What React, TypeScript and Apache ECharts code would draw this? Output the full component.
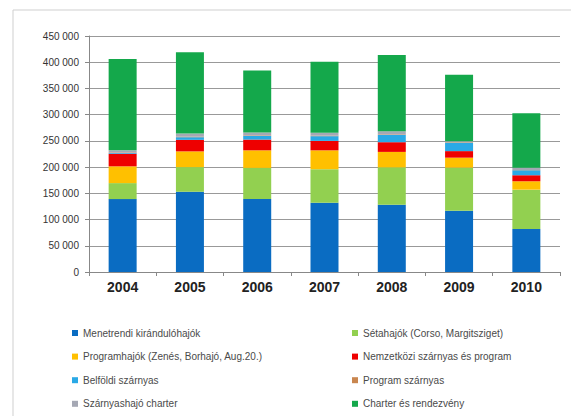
import React, { useEffect, useRef } from "react";
import * as echarts from "echarts";

const years = ["2004", "2005", "2006", "2007", "2008", "2009", "2010"];
const yTicks = [0, 50000, 100000, 150000, 200000, 250000, 300000, 350000, 400000, 450000];

const names = [
  "Menetrendi kirándulóhajók",
  "Sétahajók (Corso, Margitsziget)",
  "Programhajók (Zenés, Borhajó, Aug.20.)",
  "Nemzetközi szárnyas és program",
  "Belföldi szárnyas",
  "Program szárnyas",
  "Szárnyashajó charter",
  "Charter és rendezvény",
];

const menetrendi = [139000, 153000, 139000, 132000, 128000, 117000, 82000];
const setahajok = [30500, 47000, 59500, 64000, 71500, 82000, 75000];
const programhajok = [32000, 30000, 33500, 36000, 29500, 19000, 16000];
const nemzetkozi = [24000, 22000, 20500, 18000, 18500, 12500, 11500];
const belfoldi = [1500, 5000, 7000, 9000, 14000, 16000, 9500];
const programSzarnyas = [1000, 1000, 1000, 1000, 1000, 1000, 500];
const szarnyasCharter = [4000, 6000, 5500, 5500, 6000, 2000, 4500];
const charter = [174000, 155000, 118000, 135500, 145500, 126500, 103500];

const seriesData = [
  menetrendi,
  setahajok,
  programhajok,
  nemzetkozi,
  belfoldi,
  programSzarnyas,
  szarnyasCharter,
  charter,
];
const colors = [
  "#0a6cc2",
  "#92d050",
  "#ffc000",
  "#ee0000",
  "#2aa9e6",
  "#c9864f",
  "#a5a8b4",
  "#14a84b",
];

function fmt(v: number): string {
  return String(v).replace(/\B(?=(\d{3})+(?!\d))/g, " ");
}

export default function App() {
  const ref = useRef<HTMLDivElement>(null);
  useEffect(() => {
    if (!ref.current) return;
    const chart = echarts.init(ref.current, undefined, { renderer: "svg" });
    const legendText = {
      fontSize: 10,
      color: "#4a4a4a",
      fontFamily: "Liberation Sans, Arial, sans-serif",
      lineHeight: 10,
    };
    chart.setOption({
      animation: false,
      backgroundColor: "#ffffff",
      graphic: [
        {
          type: "rect",
          shape: { x: 13, y: 10, width: 600, height: 450 },
          style: { fill: "none", stroke: "#cfcfcf", lineWidth: 1 },
          silent: true,
        },
      ],
      grid: { left: 89, right: 11, top: 36, bottom: 144 },
      legend: [
        {
          orient: "vertical",
          left: 67,
          top: 323,
          itemWidth: 6,
          itemHeight: 6,
          itemGap: 13.6,
          icon: "rect",
          textStyle: legendText,
          data: [names[0], names[2], names[4], names[6]],
        },
        {
          orient: "vertical",
          left: 347,
          top: 323,
          itemWidth: 6,
          itemHeight: 6,
          itemGap: 13.6,
          icon: "rect",
          textStyle: legendText,
          data: [names[1], names[3], names[5], names[7]],
        },
      ],
      xAxis: {
        type: "category",
        data: years,
        axisLine: { lineStyle: { color: "#888888" } },
        axisTick: { show: true, length: 4, lineStyle: { color: "#888888" } },
        axisLabel: {
          fontSize: 14,
          fontWeight: "bold",
          color: "#222222",
          fontFamily: "Liberation Sans, Arial, sans-serif",
          margin: 8,
        },
      },
      yAxis: {
        type: "value",
        min: 0,
        max: yTicks[yTicks.length - 1],
        interval: 50000,
        axisLine: { show: true, lineStyle: { color: "#888888" } },
        axisTick: { show: true, length: 4, lineStyle: { color: "#888888" } },
        splitLine: { lineStyle: { color: "#999999" } },
        axisLabel: {
          fontSize: 10,
          color: "#333333",
          fontFamily: "Liberation Sans, Arial, sans-serif",
          margin: 10,
          formatter: (v: number) => fmt(v),
        },
      },
      series: seriesData.map((d, i) => ({
        name: names[i],
        type: "bar",
        stack: "total",
        barWidth: 28,
        data: d,
        itemStyle: { color: colors[i] },
      })),
    });
    return () => chart.dispose();
  }, []);
  return (
    <div
      ref={ref}
      style={{ position: "fixed", left: 0, top: 0, width: 571, height: 416 }}
    />
  );
}
